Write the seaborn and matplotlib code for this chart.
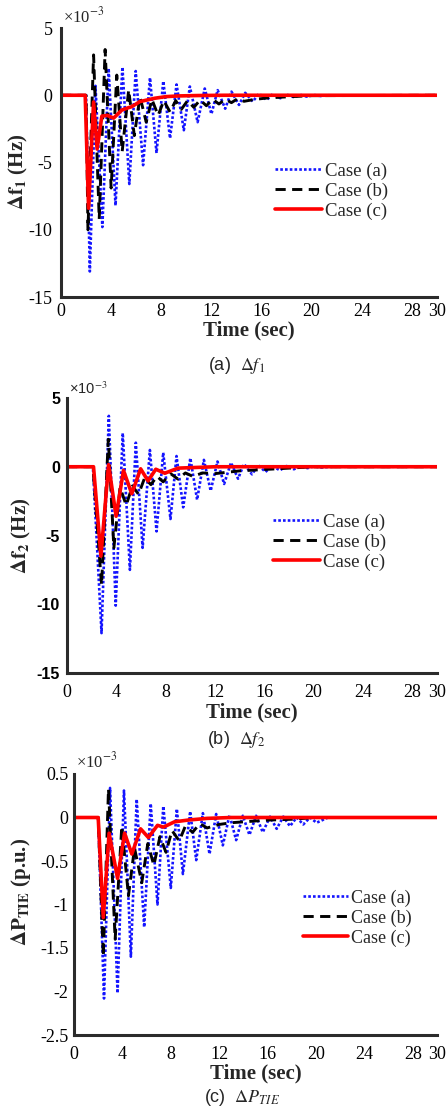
import matplotlib
matplotlib.use("Agg")
import matplotlib.pyplot as plt
import seaborn as sns

# values in units of 1e-3
# (a) delta f1
t1_a = [0, 2.0, 2.3, 2.75, 3.3, 3.8, 4.35, 4.9, 5.45, 5.96, 6.55, 7.1, 7.62, 8.16, 8.7, 9.22,
        9.8, 10.28, 10.9, 11.47, 12.0, 12.5, 13.1, 13.6, 14.2, 14.7, 15.3, 15.8, 16.4, 16.9,
        17.5, 18.0, 18.6, 19.1, 19.6, 20.2, 20.7, 21.3, 22.0, 30]
v1_a = [0, 0, -13.1, 0.7, -9.8, 2.0, -8.2, 2.1, -6.6, 1.8, -5.2, 1.3, -4.3, 1.05, -3.2, 0.8,
        -2.6, 0.65, -2.0, 0.5, -1.4, 0.38, -1.0, 0.27, -0.72, 0.18, -0.47, 0.12, -0.35, 0.08,
        -0.22, 0.05, -0.15, 0.03, -0.1, 0.02, -0.06, 0.0, -0.02, 0]
t1_b = [0, 2.0, 2.15, 2.6, 3.05, 3.52, 4.0, 4.45, 4.88, 5.4, 5.85, 6.3, 6.8, 7.25, 7.75, 8.2,
        8.7, 9.15, 9.6, 10.1, 10.6, 11.1, 11.6, 12.1, 12.6, 13.1, 13.6, 14.1, 14.6, 15.5, 16.5,
        18.0, 20.0, 30]
v1_b = [0, 0, -10.0, 3.0, -9.2, 3.4, -6.9, 1.5, -4.2, 0.4, -3.0, -0.1, -2.0, -0.3, -1.5, -0.4,
        -1.25, -0.4, -1.05, -0.4, -0.9, -0.35, -0.78, -0.3, -0.65, -0.3, -0.55, -0.25, -0.45,
        -0.3, -0.2, -0.12, -0.03, 0]
t1_c = [0, 1.93, 2.2, 2.6, 2.88, 3.26, 3.7, 4.2, 4.85, 5.3, 5.64, 6.3, 7.5, 8.4, 9.4, 11, 13, 30]
v1_c = [0, 0, -8.4, -0.5, -4.0, -1.55, -1.5, -1.7, -1.1, -0.95, -0.85, -0.47, -0.22, -0.1,
        -0.05, -0.02, 0, 0]

# (b) delta f2
t2_a = [0, 2.1, 2.8, 3.39, 3.95, 4.52, 5.1, 5.58, 6.13, 6.72, 7.26, 7.8, 8.39, 8.88, 9.42,
        10.0, 10.55, 11.1, 11.65, 12.2, 12.74, 13.3, 13.87, 14.35, 15.0, 15.5, 16.1, 16.6,
        17.26, 17.8, 18.4, 18.9, 19.5, 20.0, 20.6, 21.5, 30]
v2_a = [0, 0, -12.1, 3.7, -10.1, 2.45, -7.5, 1.75, -5.9, 1.22, -4.7, 1.03, -3.8, 0.78, -2.95,
        0.63, -2.4, 0.5, -1.75, 0.38, -1.25, 0.3, -0.87, 0.2, -0.55, 0.12, -0.38, 0.08,
        -0.26, 0.05, -0.18, 0.03, -0.1, 0.02, -0.05, 0, 0]
t2_b = [0, 2.1, 2.8, 3.35, 3.8, 4.3, 4.8, 5.3, 5.8, 6.3, 6.8, 7.3, 7.8, 8.4, 9.0, 9.6, 10.2,
        11.0, 12.0, 13.0, 14.0, 16.0, 18.0, 20.0, 30]
v2_b = [0, 0, -8.6, 2.0, -5.9, -1.5, -2.8, -1.4, -2.0, -0.8, -1.3, -0.7, -1.1, -0.5, -0.9,
        -0.45, -0.7, -0.45, -0.5, -0.4, -0.3, -0.2, -0.1, 0, 0]
t2_c = [0, 2.15, 2.75, 3.37, 3.98, 4.58, 5.25, 5.97, 6.57, 7.2, 7.93, 9.0, 10.5, 12, 30]
v2_c = [0, 0, -6.5, 0.15, -3.6, -0.27, -1.96, -0.15, -1.03, -0.18, -0.47, -0.1, -0.05, 0, 0]

# (c) delta P_tie
t3_a = [0, 2.0, 2.48, 2.98, 3.6, 4.13, 4.7, 5.18, 5.8, 6.34, 6.9, 7.38, 8.0, 8.5, 9.0, 9.6,
        10.1, 10.65, 11.2, 11.75, 12.3, 12.85, 13.4, 13.95, 14.5, 15.05, 15.6, 16.2, 16.75,
        17.3, 17.85, 18.4, 18.95, 19.5, 20.05, 21.0, 30]
v3_a = [0, 0, -2.08, 0.34, -2.02, 0.31, -1.6, 0.21, -1.26, 0.16, -1.0, 0.13, -0.81, 0.1,
        -0.65, 0.07, -0.49, 0.05, -0.42, 0.04, -0.32, 0.03, -0.26, 0.02, -0.2, 0.02, -0.17,
        0.01, -0.13, 0.01, -0.1, 0.0, -0.08, 0.0, -0.06, 0, 0]
t3_b = [0, 2.0, 2.42, 2.85, 3.4, 3.95, 4.5, 5.0, 5.6, 6.1, 6.6, 7.1, 7.6, 8.1, 8.7, 9.2, 9.8,
        10.4, 11.0, 12.0, 13.0, 14.0, 16.0, 18.0, 20.0, 30]
v3_b = [0, 0, -1.6, 0.33, -1.4, -0.1, -0.9, -0.35, -0.75, -0.3, -0.55, -0.22, -0.4, -0.15,
        -0.27, -0.1, -0.17, -0.07, -0.12, -0.08, -0.06, -0.05, -0.03, -0.02, 0, 0]
t3_c = [0, 2.0, 2.42, 2.9, 3.6, 4.18, 4.78, 5.5, 6.15, 6.9, 7.4, 8.3, 9.4, 11, 13, 30]
v3_c = [0, 0, -1.15, -0.18, -0.7, -0.18, -0.42, -0.13, -0.23, -0.09, -0.11, -0.05, -0.03,
        -0.01, 0, 0]

case_labels = ["Case (a)", "Case (b)", "Case (c)"]
x_ticks = [0, 4, 8, 12, 16, 20, 24, 28, 30]

sns.set_style("white")
plt.rcParams["font.family"] = ["Liberation Serif", "DejaVu Serif"]
plt.rcParams["mathtext.fontset"] = "stix"
plt.rcParams["axes.unicode_minus"] = False

SERIF = "Liberation Serif"
SANS = "Liberation Sans"
AXC = "#2b2b2b"

fig = plt.figure(figsize=(4.47, 11.15), dpi=100)
ax1 = fig.add_axes([61 / 447, 1 - 297 / 1115, 376 / 447, 269 / 1115])
ax2 = fig.add_axes([67 / 447, 1 - 673 / 1115, 370 / 447, 275 / 1115])
ax3 = fig.add_axes([74 / 447, 1 - 1035 / 1115, 363 / 447, 261 / 1115])

panels = [
    (ax1, (t1_a, v1_a), (t1_b, v1_b), (t1_c, v1_c)),
    (ax2, (t2_a, v2_a), (t2_b, v2_b), (t2_c, v2_c)),
    (ax3, (t3_a, v3_a), (t3_b, v3_b), (t3_c, v3_c)),
]

for ax, a, b, c in panels:
    sns.lineplot(x=a[0], y=a[1], ax=ax, color="#1414ff", linestyle=(0, (1, 0.8)),
                 linewidth=1.9, label=case_labels[0])
    sns.lineplot(x=b[0], y=b[1], ax=ax, color="black", linestyle=(0, (3.5, 2.2)),
                 linewidth=2.1, label=case_labels[1])
    sns.lineplot(x=c[0], y=c[1], ax=ax, color="#ff0000", linestyle="-",
                 linewidth=2.6, label=case_labels[2])
    ax.set_xlim(0, 30)
    ax.set_xticks(x_ticks)
    for s in ["top", "right"]:
        ax.spines[s].set_visible(False)
    for s in ["left", "bottom"]:
        ax.spines[s].set_linewidth(2.2)
        ax.spines[s].set_color(AXC)
    ax.tick_params(direction="in", length=4, width=1.6, color=AXC, labelcolor="black")
    ax.set_xlabel("Time (sec)", fontsize=15, fontweight="bold", family=SERIF, labelpad=1)

# axis ranges and tick labels
ax1.set_ylim(-15, 5)
ax1.set_yticks([-15, -10, -5, 0, 5])
ax2.set_ylim(-15, 5)
ax2.set_yticks([-15, -10, -5, 0, 5])
ax3.set_ylim(-2.5, 0.5)
ax3.set_yticks([-2.5, -2, -1.5, -1, -0.5, 0, 0.5])
ax3.set_yticklabels(["-2.5", "-2", "-1.5", "-1", "-0.5", "0", "0.5"])

for lab in ax1.get_xticklabels() + ax1.get_yticklabels():
    lab.set_family(SERIF)
    lab.set_fontsize(13)
for lab in ax2.get_xticklabels():
    lab.set_family(SERIF)
    lab.set_fontsize(13)
for lab in ax2.get_yticklabels():
    lab.set_family(SANS)
    lab.set_fontweight("bold")
    lab.set_fontsize(11.5)
for lab in ax3.get_xticklabels() + ax3.get_yticklabels():
    lab.set_family(SERIF)
    lab.set_fontsize(13)

ax1.tick_params(axis="x", pad=4)
ax1.tick_params(axis="y", pad=6)
ax2.tick_params(axis="x", pad=8)
ax2.tick_params(axis="y", pad=5)
ax3.tick_params(axis="x", pad=8)
ax3.tick_params(axis="y", pad=4)
ax3.xaxis.labelpad = 0

# y labels
ax1.set_ylabel(r"$\mathbf{\Delta f_1}$ (Hz)", fontsize=15, fontweight="bold", family=SERIF)
ax1.yaxis.set_label_coords(-0.082, 0.465)
ax2.set_ylabel(r"$\mathbf{\Delta f_2}$ (Hz)", fontsize=15, fontweight="bold", family=SERIF)
ax2.yaxis.set_label_coords(-0.092, 0.5)
ax3.set_ylabel(r"$\mathbf{\Delta P_{TIE}}$ (p.u.)", fontsize=15, fontweight="bold", family=SERIF)
ax3.yaxis.set_label_coords(-0.113, 0.548)

# exponent markers
ax1.text(0.005, 1.005, r"×10$^{-3}$", transform=ax1.transAxes, va="bottom", ha="left",
         fontsize=12, family=SERIF)
ax2.text(0.005, 1.005, r"×10$^{-3}$", transform=ax2.transAxes, va="bottom", ha="left",
         fontsize=10.5, family=SANS)
ax3.text(0.005, 1.01, r"×10$^{-3}$", transform=ax3.transAxes, va="bottom", ha="left",
         fontsize=12, family=SERIF)

# legends
legend_pos = {ax1: (0.569, 0.394), ax2: (0.557, 0.476), ax3: (0.631, 0.448)}
for ax, pos in legend_pos.items():
    ax.legend(loc="center left", bbox_to_anchor=pos, frameon=False, borderpad=0,
              borderaxespad=0, handlelength=2.5, handletextpad=0.15, labelspacing=0.15,
              prop={"family": SERIF, "size": 13.5 if ax is not ax3 else 13})

# captions
fig.text(237 / 447, 1 - 365 / 1115, r"(a)  $\Delta f_1$", ha="center", va="center",
         fontsize=13, family=SANS)
fig.text(236 / 447, 1 - 740 / 1115, r"(b)  $\Delta f_2$", ha="center", va="center",
         fontsize=13, family=SANS)
fig.text(242 / 447, 1 - 1097 / 1115, r"(c)  $\Delta P_{TIE}$", ha="center", va="center",
         fontsize=13, family=SANS)

fig.savefig("out.png", dpi=100, facecolor="white")
